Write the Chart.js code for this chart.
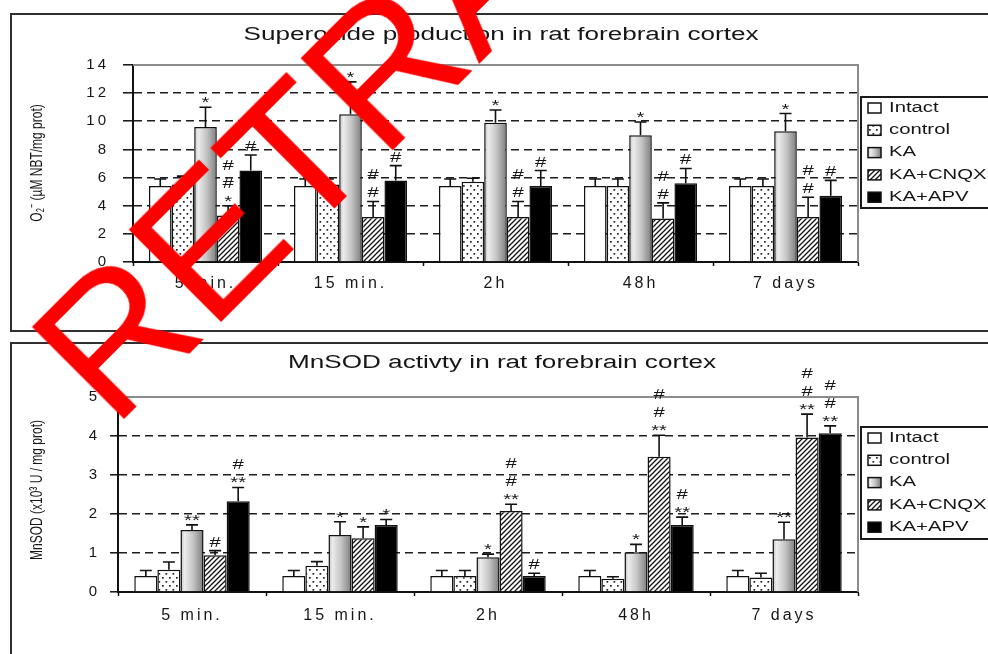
<!DOCTYPE html>
<html lang="en">
<head>
<meta charset="utf-8">
<title>Superoxide production and MnSOD activity in rat forebrain cortex</title>
<script src="https://cdn.jsdelivr.net/npm/chart.js@4.4.1/dist/chart.umd.min.js"></script>
<style>
  html, body { margin: 0; padding: 0; background: #fff; }
  #page { position: relative; width: 988px; height: 654px; overflow: hidden; background: #fff; }
  .panel { position: absolute; box-sizing: border-box; border: 2px solid #303030; background: #fff; }
  #panelTop { left: 10px; top: 13px; width: 1000px; height: 319px; }
  #panelBottom { left: 10px; top: 342px; width: 1000px; height: 340px; }
  .plot { position: absolute; left: 0; }
  #o2Chart { top: 0; }
  #sodChart { top: 336px; }
  #stamp {
    position: absolute; left: 113px; top: 269px; margin: 0; padding: 0;
    font-family: "Liberation Sans", Arial, sans-serif; font-size: 190px; line-height: 190px;
    color: #ff0000; white-space: nowrap;
    transform-origin: 0 161px; transform: rotate(-45deg);
  }
  #stamp .base { display: inline-block; width: 0; height: 0; vertical-align: baseline; }
</style>
</head>
<body>
<div id="page">
  <div class="panel" id="panelTop"></div>
  <div class="panel" id="panelBottom"></div>
  <canvas class="plot" id="o2Chart" width="988" height="336"></canvas>
  <canvas class="plot" id="sodChart" width="988" height="318"></canvas>
  <div id="stamp"><span class="base"></span>RETRACTED</div>
</div>
<script>
const FONT = '"Liberation Sans", Arial, Helvetica, sans-serif';
const INK = '#161616';
const X_STRETCH = 1.45;
const TICK_SPACING = '3px';

// Time points and experimental groups
const categories = ['5 min.', '15 min.', '2h', '48h', '7 days'];
const groups = ['Intact', 'control', 'KA', 'KA+CNQX', 'KA+APV'];

// Superoxide production (µM NBT / mg prot), means
const o2Intact  = [5.4, 5.4, 5.4, 5.4, 5.4];
const o2Control = [5.5, 5.5, 5.7, 5.4, 5.4];
const o2KA      = [9.6, 10.5, 9.9, 9.0, 9.3];
const o2CNQX    = [3.3, 3.2, 3.2, 3.1, 3.2];
const o2APV     = [6.5, 5.8, 5.4, 5.6, 4.7];
// Superoxide, SEM
const o2IntactErr  = [0.5, 0.5, 0.5, 0.5, 0.5];
const o2ControlErr = [0.6, 0.4, 0.25, 0.5, 0.5];
const o2KAErr      = [1.4, 2.3, 0.9, 0.95, 1.25];
const o2CNQXErr    = [0.7, 1.1, 1.1, 1.1, 1.4];
const o2APVErr     = [1.1, 1.05, 1.1, 1.05, 1.1];
// Superoxide, significance marks (top line first)
const o2IntactMarks  = [[], [], [], [], []];
const o2ControlMarks = [[], [], [], [], []];
const o2KAMarks      = [['*'], ['*'], ['*'], ['*'], ['*']];
const o2CNQXMarks    = [['#', '#', '*'], ['#', '#'], ['#', '#'], ['#', '#'], ['#', '#']];
const o2APVMarks     = [['#'], ['#'], ['#'], ['#'], ['#']];
const o2Ticks = { min: 0, max: 14, step: 2 };

// MnSOD activity (x10^3 U / mg prot), means
const sodIntact  = [0.41, 0.41, 0.41, 0.41, 0.41];
const sodControl = [0.57, 0.67, 0.41, 0.34, 0.37];
const sodKA      = [1.59, 1.46, 0.89, 1.02, 1.35];
const sodCNQX    = [0.94, 1.38, 2.08, 3.47, 3.96];
const sodAPV     = [2.33, 1.72, 0.41, 1.72, 4.07];
// MnSOD, SEM
const sodIntactErr  = [0.14, 0.14, 0.14, 0.14, 0.14];
const sodControlErr = [0.2, 0.11, 0.14, 0.05, 0.11];
const sodKAErr      = [0.13, 0.34, 0.08, 0.2, 0.44];
const sodCNQXErr    = [0.12, 0.29, 0.17, 0.55, 0.6];
const sodAPVErr     = [0.35, 0.14, 0.07, 0.2, 0.19];
// MnSOD, significance marks (top line first)
const sodIntactMarks  = [[], [], [], [], []];
const sodControlMarks = [[], [], [], [], []];
const sodKAMarks      = [['**'], ['*'], ['*'], ['*'], ['**']];
const sodCNQXMarks    = [['#'], ['*'], ['#', '#', '**'], ['#', '#', '**'], ['#', '#', '**']];
const sodAPVMarks     = [['#', '**'], ['*'], ['#'], ['#', '**'], ['#', '#', '**']];
const sodTicks = { min: 0, max: 5, step: 1 };

// Stamp: text baseline starts at this page point, rotated 45° upward
const STAMP_ORIGIN = { x: 113, y: 430 };

// ---- fills ----
function makeDots(ctx) {
  const c = document.createElement('canvas');
  c.width = 7; c.height = 8;
  const g = c.getContext('2d');
  g.fillStyle = '#ffffff'; g.fillRect(0, 0, 7, 8);
  g.fillStyle = '#222222';
  g.fillRect(1, 1, 1.7, 1.7);
  g.fillRect(4.5, 5, 1.7, 1.7);
  return ctx.createPattern(c, 'repeat');
}
function makeHatch(ctx) {
  const s = 5;
  const c = document.createElement('canvas');
  c.width = s; c.height = s;
  const g = c.getContext('2d');
  g.fillStyle = '#ffffff'; g.fillRect(0, 0, s, s);
  g.strokeStyle = '#111111'; g.lineWidth = 1.3;
  g.beginPath();
  g.moveTo(-1, s + 1); g.lineTo(s + 1, -1);
  g.moveTo(-1, 1); g.lineTo(1, -1);
  g.moveTo(s - 1, s + 1); g.lineTo(s + 1, s - 1);
  g.stroke();
  return ctx.createPattern(c, 'repeat');
}
function grayRamp(ctx, l, r) {
  const g = ctx.createLinearGradient(l, 0, r, 0);
  g.addColorStop(0, '#c0c0c0');
  g.addColorStop(0.18, '#ececec');
  g.addColorStop(0.55, '#c4c4c4');
  g.addColorStop(1, '#7c7c7c');
  return g;
}
function kaFill(context) {
  const chart = context.chart;
  if (context.type !== 'data') return '#c4c4c4';
  const el = chart.getDatasetMeta(context.datasetIndex).data[context.dataIndex];
  if (!el || !isFinite(el.x) || !el.width) return '#c4c4c4';
  return grayRamp(chart.ctx, el.x - el.width / 2, el.x + el.width / 2);
}

function buildDatasets(ctx, values, errors, marks) {
  const fills = ['#ffffff', makeDots(ctx), kaFill, makeHatch(ctx), '#000000'];
  return groups.map((label, i) => ({
    label,
    data: values[i],
    errors: errors[i],
    marks: marks[i],
    backgroundColor: fills[i],
    borderColor: '#111111',
    borderWidth: 1.5,
    categoryPercentage: 0.78,
    barPercentage: 1.0
  }));
}

// ---- stretched text helper ----
function wideText(ctx, text, x, y, size, opts = {}) {
  ctx.save();
  ctx.letterSpacing = '0px';
  ctx.font = (opts.weight || 'normal') + ' ' + size + 'px ' + FONT;
  ctx.fillStyle = opts.color || INK;
  ctx.textAlign = opts.align || 'center';
  ctx.textBaseline = opts.baseline || 'middle';
  ctx.translate(x, y);
  ctx.scale(X_STRETCH, 1);
  if (opts.rotate) ctx.rotate(opts.rotate);
  ctx.fillText(text, 0, 0);
  ctx.restore();
}

// ---- panel decorations: frame, error bars, marks, title, axis title, legend ----
const panelDecor = {
  id: 'panelDecor',
  beforeUpdate(chart) { chart.ctx.letterSpacing = TICK_SPACING; },
  beforeDraw(chart) { chart.ctx.letterSpacing = TICK_SPACING; },
  beforeDatasetsDraw(chart) {
    const { ctx, chartArea: a } = chart;
    ctx.save();
    ctx.strokeStyle = '#8c8c8c';
    ctx.lineWidth = 2;
    ctx.beginPath();
    ctx.moveTo(a.left, a.top);
    ctx.lineTo(a.right, a.top);
    ctx.lineTo(a.right, a.bottom);
    ctx.stroke();
    ctx.restore();
  },
  afterDatasetsDraw(chart) {
    const { ctx } = chart;
    const y = chart.scales.y;
    ctx.save();
    ctx.letterSpacing = '0px';
    chart.data.datasets.forEach((ds, di) => {
      chart.getDatasetMeta(di).data.forEach((bar, i) => {
        const v = ds.data[i];
        const capY = y.getPixelForValue(v + ds.errors[i]);
        ctx.strokeStyle = '#111111';
        ctx.lineWidth = 1.6;
        ctx.beginPath();
        ctx.moveTo(bar.x, bar.y);
        ctx.lineTo(bar.x, capY);
        ctx.moveTo(bar.x - 6, capY);
        ctx.lineTo(bar.x + 6, capY);
        ctx.stroke();

        const lines = ds.marks[i];
        let bottom = capY - 4;
        ctx.font = 'normal 14px ' + FONT;
        for (let k = lines.length - 1; k >= 0; k--) {
          const m = ctx.measureText(lines[k]);
          const base = bottom - m.actualBoundingBoxDescent;
          wideText(ctx, lines[k], bar.x, base, 14, { baseline: 'alphabetic' });
          ctx.font = 'normal 14px ' + FONT;
          bottom = base - m.actualBoundingBoxAscent - 8;
        }
      });
    });
    ctx.restore();
  },
  afterDraw(chart, args, o) {
    const { ctx } = chart;
    wideText(ctx, o.title, o.titleX, o.titleY, 18);
    wideText(ctx, o.yTitle, o.yTitleX, o.yTitleY, 12, { rotate: -Math.PI / 2 });

    // legend box, open at the right edge
    const L = o.legend;
    ctx.save();
    ctx.letterSpacing = '0px';
    ctx.strokeStyle = '#1a1a1a';
    ctx.lineWidth = 2;
    ctx.beginPath();
    ctx.moveTo(chart.width + 4, L.top);
    ctx.lineTo(L.left, L.top);
    ctx.lineTo(L.left, L.bottom);
    ctx.lineTo(chart.width + 4, L.bottom);
    ctx.stroke();
    chart.data.datasets.forEach((ds, i) => {
      const cy = L.top + 11 + i * 22.3;
      const sx = L.left + 7, sw = 13, sh = 10;
      let fill = ds.backgroundColor;
      if (typeof fill === 'function') fill = grayRamp(ctx, sx, sx + sw);
      ctx.fillStyle = fill;
      ctx.fillRect(sx, cy - sh / 2, sw, sh);
      ctx.strokeStyle = '#111111';
      ctx.lineWidth = 1.5;
      ctx.strokeRect(sx, cy - sh / 2, sw, sh);
      wideText(ctx, ds.label, L.left + 28, cy, 14, { align: 'left' });
    });
    ctx.restore();
  }
};

function makeChart(canvasId, datasets, ticks, geom, decor) {
  const canvas = document.getElementById(canvasId);
  return new Chart(canvas, {
    type: 'bar',
    data: { labels: categories, datasets },
    plugins: [panelDecor],
    options: {
      responsive: false,
      animation: false,
      events: [],
      layout: { padding: { left: 0, right: geom.right, top: geom.top, bottom: 0 } },
      plugins: {
        legend: { display: false },
        title: { display: false },
        tooltip: { enabled: false },
        panelDecor: decor
      },
      scales: {
        x: {
          offset: true,
          grid: { offset: true, drawOnChartArea: false, drawTicks: true, tickLength: 4, tickColor: '#111', tickWidth: 1.5 },
          border: { display: true, color: '#111', width: 2 },
          ticks: { color: INK, font: { family: FONT, size: 16 }, padding: geom.xPad, maxRotation: 0, autoSkip: false },
          afterFit(s) { s.height = geom.xHeight; }
        },
        y: {
          min: ticks.min,
          max: ticks.max,
          ticks: { stepSize: ticks.step, color: INK, font: { family: FONT, size: 15 }, padding: geom.yPad },
          grid: {
            color: c => (c.tick && (c.tick.value === ticks.min || c.tick.value === ticks.max)) ? 'rgba(0,0,0,0)' : '#1e1e1e',
            lineWidth: 1.6,
            drawTicks: true,
            tickLength: geom.yTick,
            tickColor: '#111',
            tickWidth: 1.5
          },
          border: { display: true, color: '#111', width: 2, dash: [8, 5] },
          afterFit(s) { s.width = geom.left; }
        }
      }
    }
  });
}

const o2Canvas = document.getElementById('o2Chart');
const o2Chart = makeChart('o2Chart',
  buildDatasets(o2Canvas.getContext('2d'),
    [o2Intact, o2Control, o2KA, o2CNQX, o2APV],
    [o2IntactErr, o2ControlErr, o2KAErr, o2CNQXErr, o2APVErr],
    [o2IntactMarks, o2ControlMarks, o2KAMarks, o2CNQXMarks, o2APVMarks]),
  o2Ticks,
  { left: 133, right: 130, top: 65, xHeight: 74, xPad: 8, yPad: 14, yTick: 10 },
  {
    title: 'Superoxide production in rat forebrain cortex', titleX: 501, titleY: 35,
    yTitle: 'O\u2082\u207B (\u00B5M NBT/mg prot)', yTitleX: 37, yTitleY: 163,
    legend: { left: 861, top: 97, bottom: 208 }
  });

const sodCanvas = document.getElementById('sodChart');
const sodChart = makeChart('sodChart',
  buildDatasets(sodCanvas.getContext('2d'),
    [sodIntact, sodControl, sodKA, sodCNQX, sodAPV],
    [sodIntactErr, sodControlErr, sodKAErr, sodCNQXErr, sodAPVErr],
    [sodIntactMarks, sodControlMarks, sodKAMarks, sodCNQXMarks, sodAPVMarks]),
  sodTicks,
  { left: 118, right: 130, top: 61, xHeight: 62, xPad: 10, yPad: 10, yTick: 8 },
  {
    title: 'MnSOD activty in rat forebrain cortex', titleX: 502, titleY: 27,
    yTitle: 'MnSOD (x10\u00B3 U / mg prot)', yTitleX: 37, yTitleY: 154,
    legend: { left: 861, top: 91, bottom: 203 }
  });

// second pass so the KA bars get their per-bar gray ramp
o2Chart.update('none');
sodChart.update('none');

// pin the stamp's baseline start to STAMP_ORIGIN and rotate about it
(function placeStamp() {
  const stamp = document.getElementById('stamp');
  const base = stamp.querySelector('.base').offsetTop;
  stamp.style.left = STAMP_ORIGIN.x + 'px';
  stamp.style.top = (STAMP_ORIGIN.y - base) + 'px';
  stamp.style.transformOrigin = '0 ' + base + 'px';
})();
</script>
</body>
</html>
